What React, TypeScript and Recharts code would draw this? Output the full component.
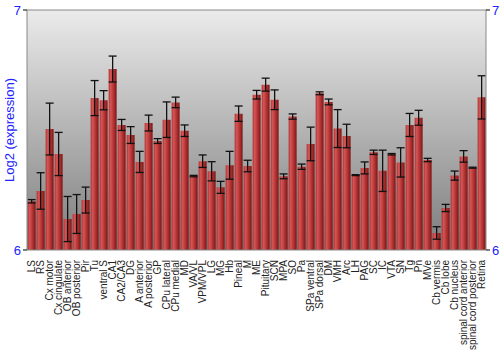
import { BarChart, Bar, XAxis, YAxis, CartesianGrid, ErrorBar, ReferenceLine, Label } from 'recharts'

const regions = [
  'LS', 'RS', 'Cx motor', 'Cx cingulate', 'OB anterior', 'OB posterior', 'Pir', 'Tu', 'ventral S', 'CA1',
  'CA2/CA3', 'DG', 'A anterior', 'A posterior', 'GP', 'CPu lateral', 'CPu medial', 'MD', 'VA/VL', 'VPM/VPL',
  'LG', 'MG', 'Hb', 'Pineal', 'M', 'ME', 'Pituitary', 'SCN', 'MPA', 'SO',
  'Pa', 'SPa ventral', 'SPa dorsal', 'DM', 'VMH', 'Arc', 'LH', 'PAG', 'SC', 'IC',
  'VTA', 'SN', 'Tg', 'Pn', 'MVe', 'Cb vermis', 'Cb lobe', 'Cb nucleus', 'spinal cord anterior', 'spinal cord posterior',
  'Retina',
]

const expression = [
  6.203, 6.246, 6.504, 6.4, 6.129, 6.15, 6.208, 6.633, 6.624, 6.754,
  6.521, 6.479, 6.367, 6.529, 6.454, 6.543, 6.615, 6.497, 6.308, 6.37,
  6.328, 6.261, 6.353, 6.568, 6.35, 6.647, 6.689, 6.626, 6.307, 6.556,
  6.347, 6.442, 6.653, 6.617, 6.506, 6.475, 6.312, 6.342, 6.407, 6.33,
  6.399, 6.365, 6.521, 6.551, 6.375, 6.071, 6.175, 6.31, 6.39, 6.343,
  6.636,
]

const stdErr = [
  0.007, 0.076, 0.108, 0.09, 0.094, 0.081, 0.054, 0.073, 0.04, 0.054,
  0.023, 0.035, 0.044, 0.033, 0.01, 0.074, 0.022, 0.024, 0.003, 0.026,
  0.04, 0.025, 0.058, 0.032, 0.024, 0.018, 0.027, 0.041, 0.01, 0.011,
  0.011, 0.07, 0.006, 0.012, 0.079, 0.049, 0.002, 0.025, 0.009, 0.086,
  0.003, 0.061, 0.048, 0.031, 0.007, 0.026, 0.015, 0.019, 0.024, 0.002,
  0.09,
]

const yTicks = [6, 7]

const data = regions.map((name, i) => ({ name, value: expression[i], err: stdErr[i] }))

const FONT = '"Liberation Sans", Arial, sans-serif'

function RegionTick({ x, y, payload }: any) {
  return (
    <text
      x={x}
      y={y + 2}
      transform={`rotate(-90 ${x} ${y + 2})`}
      textAnchor="end"
      dy="0.36em"
      fontSize={10}
      fontFamily={FONT}
      fill="#222"
    >
      {payload.value}
    </text>
  )
}

export default function App() {
  return (
    <div style={{ position: 'absolute', left: 0, top: 0, background: '#fff' }}>
      <BarChart
        width={500}
        height={350}
        data={data}
        margin={{ top: 10, right: 0, left: 0, bottom: 0 }}
        barCategoryGap="7%"
      >
        <defs>
          <linearGradient id="bg" x1="0" y1="0" x2="0" y2="1">
            <stop offset="0%" stopColor="#ebebeb" />
            <stop offset="100%" stopColor="#7c7c7c" />
          </linearGradient>
          <linearGradient id="barFill" x1="0" y1="0" x2="1" y2="0">
            <stop offset="0%" stopColor="#b03232" />
            <stop offset="25%" stopColor="#d35656" />
            <stop offset="60%" stopColor="#b53434" />
            <stop offset="100%" stopColor="#7c1616" />
          </linearGradient>
        </defs>
        <CartesianGrid fill="url(#bg)" horizontal={false} vertical={false} />
        <XAxis
          dataKey="name"
          interval={0}
          height={100}
          tick={<RegionTick />}
          tickLine={false}
          axisLine={{ stroke: '#888' }}
        />
        <YAxis
          yAxisId="left"
          orientation="left"
          width={27}
          domain={[6, 7]}
          ticks={yTicks}
          allowDataOverflow
          tick={{ fill: '#2222ff', fontSize: 13, fontFamily: FONT }}
          tickLine={{ stroke: '#000' }}
          tickSize={4}
          axisLine={{ stroke: '#888' }}
        >
          <Label
            content={() => (
              <text
                x={9}
                y={130}
                transform="rotate(-90 9 130)"
                textAnchor="middle"
                dominantBaseline="central"
                fontSize={13}
                fontFamily={FONT}
                fill="#2222ff"
              >
                Log2 (expression)
              </text>
            )}
          />
        </YAxis>
        <YAxis
          yAxisId="right"
          orientation="right"
          width={14}
          domain={[6, 7]}
          ticks={yTicks}
          allowDataOverflow
          tick={{ fill: '#2222ff', fontSize: 13, fontFamily: FONT }}
          tickLine={{ stroke: '#000' }}
          tickSize={4}
          axisLine={{ stroke: '#888' }}
        />
        <ReferenceLine yAxisId="left" y={7} stroke="#888" />
        <Bar yAxisId="left" dataKey="value" fill="url(#barFill)" isAnimationActive={false}>
          <ErrorBar dataKey="err" width={4} stroke="#111" strokeWidth={1.3} />
        </Bar>
      </BarChart>
    </div>
  )
}
